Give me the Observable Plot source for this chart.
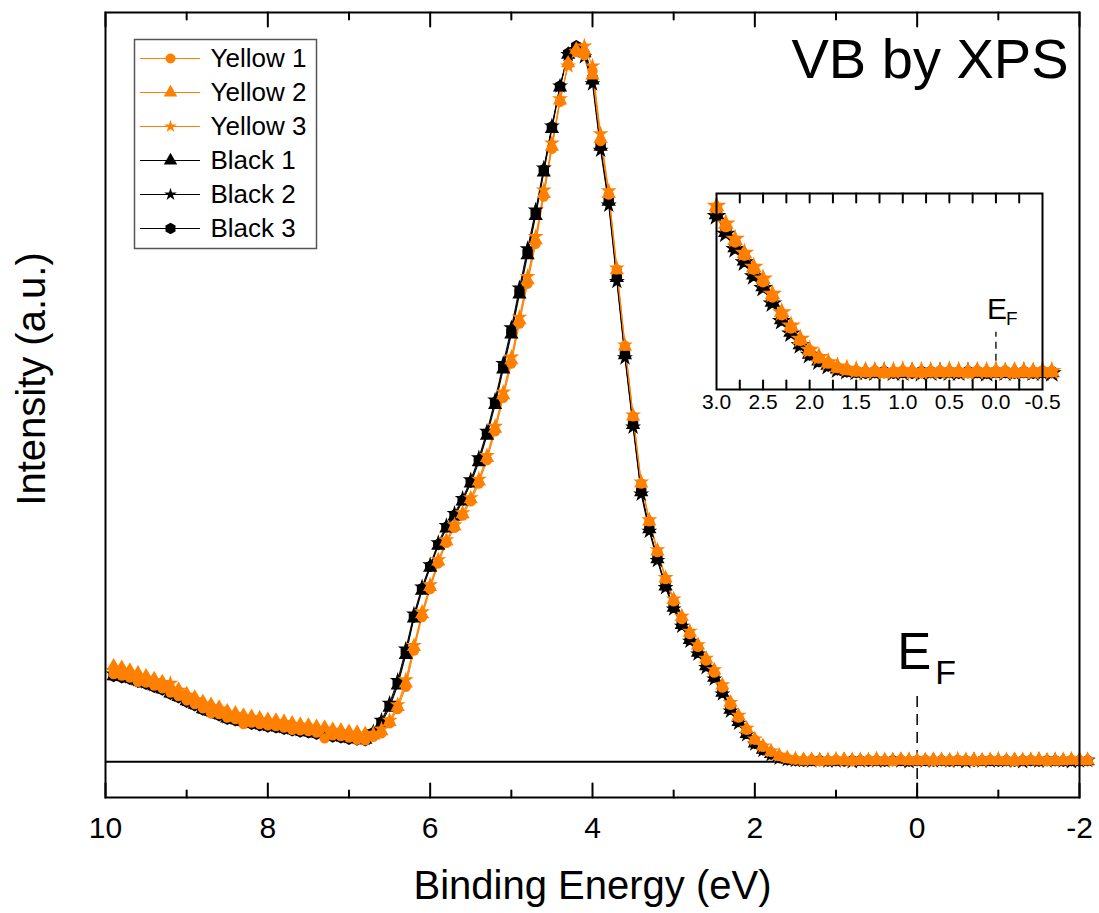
<!DOCTYPE html>
<html>
<head>
<meta charset="utf-8">
<script src="https://cdn.jsdelivr.net/npm/d3@7"></script>
<script src="https://cdn.jsdelivr.net/npm/@observablehq/plot@0.6"></script>
<style>
  body { margin: 0; background: #fff; }
  #wrap { position: relative; width: 1099px; height: 913px; overflow: hidden; font-family: "Liberation Sans", Arial, sans-serif; }
  #wrap > svg { position: absolute; }
</style>
</head>
<body>
<div id="wrap"></div>
<script>
// ---------- data (binding energy in eV, normalized intensity) ----------
const energy = [9.9,9.8,9.7,9.6,9.5,9.4,9.3,9.2,9.1,9.0,8.9,8.8,8.7,8.6,8.5,8.4,8.3,8.2,8.1,8.0,7.9,7.8,7.7,7.6,7.5,7.4,7.3,7.2,7.1,7.0,6.9,6.8,6.7,6.6,6.5,6.4,6.3,6.2,6.1,6.0,5.9,5.8,5.7,5.6,5.5,5.4,5.3,5.2,5.1,5.0,4.9,4.8,4.7,4.6,4.5,4.4,4.3,4.2,4.1,4.0,3.9,3.8,3.7,3.6,3.5,3.4,3.3,3.2,3.1,3.0,2.9,2.8,2.7,2.6,2.5,2.4,2.3,2.2,2.1,2.0,1.9,1.8,1.7,1.6,1.5,1.4,1.3,1.2,1.1,1.0,0.9,0.8,0.7,0.6,0.5,0.4,0.3,0.2,0.1,0.0,-0.1,-0.2,-0.3,-0.4,-0.5,-0.6,-0.7,-0.8,-0.9,-1.0,-1.1,-1.2,-1.3,-1.4,-1.5,-1.6,-1.7,-1.8,-1.9,-2.0,-2.1];

const yellow1 = [
  .123,.121,.118,.112,.111,.107,.103,.097,.092,.086,
  .081,.075,.068,.067,.062,.060,.053,.055,.053,.051,
  .050,.048,.045,.044,.043,.041,.033,.037,.036,.034,
  .031,.030,.035,.040,.054,.074,.105,.156,.203,.242,
  .278,.307,.328,.345,.365,.390,.423,.463,.510,.558,
  .614,.670,.726,.792,.859,.925,.977,.995,.990,.968,
  .870,.795,.690,.583,.484,.390,.337,.294,.256,.225,
  .200,.179,.161,.142,.125,.104,.080,.062,.045,.031,
  .021,.014,.008,.005,.003,
  .002,.003,.001,.002,.003,.002,.001,.002,.003,.002,
  .002,.001,.003,.002,.002,.003,.001,.002,.002,.003,
  .002,.001,.002,.003,.002,.002,.001,.002,.003,.002,
  .001,.002,.002,.003,.002,.002];
const yellow2 = [
  .134,.132,.128,.124,.120,.116,.112,.106,.101,.095,
  .090,.084,.080,.076,.071,.068,.065,.063,.061,.059,
  .058,.056,.054,.052,.051,.049,.048,.045,.044,.042,
  .041,.039,.037,.043,.056,.077,.110,.161,.207,.245,
  .281,.309,.330,.347,.368,.393,.426,.467,.514,.563,
  .619,.675,.731,.796,.862,.927,.979,.998,.997,.962,
  .873,.796,.689,.582,.484,.390,.337,.295,.257,.227,
  .203,.181,.163,.144,.128,.107,.083,.064,.046,.031,
  .022,.014,.008,.005,.003,
  .003,.002,.002,.001,.002,.003,.002,.002,.001,.003,
  .002,.002,.003,.002,.001,.002,.003,.002,.002,.001,
  .002,.003,.002,.002,.002,.001,.003,.002,.002,.003,
  .002,.001,.002,.002,.003,.002];
const yellow3 = [
  .128,.127,.124,.120,.117,.114,.111,.110,.100,.093,
  .087,.081,.077,.074,.068,.066,.063,.062,.059,.057,
  .056,.055,.052,.051,.049,.047,.046,.044,.042,.040,
  .039,.038,.040,.046,.058,.080,.115,.163,.210,.248,
  .283,.311,.332,.349,.370,.396,.429,.470,.518,.567,
  .623,.680,.736,.801,.867,.929,.975,.995,1.003,.975,
  .880,.800,.692,.584,.486,.392,.339,.297,.258,.228,
  .204,.183,.164,.145,.129,.108,.083,.065,.047,.032,
  .022,.015,.009,.006,.004,
  .003,.003,.002,.003,.004,.002,.003,.003,.002,.004,
  .003,.002,.003,.003,.004,.002,.003,.003,.002,.004,
  .003,.003,.002,.003,.004,.003,.002,.003,.003,.004,
  .002,.003,.003,.004,.003,.003];
const black1 = [
  .120,.119,.117,.113,.110,.106,.102,.096,.091,.085,
  .080,.074,.070,.066,.061,.059,.056,.054,.052,.050,
  .049,.047,.045,.043,.042,.040,.039,.036,.035,.033,
  .032,.031,.040,.054,.076,.107,.150,.201,.240,.272,
  .303,.327,.344,.365,.390,.420,.457,.500,.550,.599,
  .655,.710,.765,.826,.887,.945,.991,1.000,.993,.955,
  .862,.785,.678,.570,.472,.378,.326,.284,.246,.216,
  .192,.171,.153,.134,.118,.097,.073,.056,.039,.026,
  .017,.011,.006,.003,.002,
  .001,.002,.001,.000,.001,.002,.001,.001,.000,.002,
  .001,.001,.002,.001,.000,.001,.002,.001,.001,.000,
  .001,.002,.001,.001,.000,.001,.002,.001,.001,.002,
  .000,.001,.001,.002,.001,.001];
const black2 = [
  .123,.122,.119,.115,.112,.108,.104,.098,.093,.087,
  .082,.076,.072,.068,.063,.061,.058,.056,.054,.052,
  .051,.049,.047,.045,.044,.042,.041,.038,.037,.035,
  .034,.033,.042,.058,.082,.114,.158,.207,.245,.276,
  .307,.331,.348,.369,.395,.426,.463,.507,.558,.608,
  .664,.719,.773,.832,.891,.947,.991,.998,.988,.950,
  .857,.780,.673,.566,.469,.375,.323,.282,.244,.214,
  .190,.169,.151,.132,.116,.095,.071,.054,.038,.025,
  .016,.010,.005,.003,.002,
  .002,.001,.002,.001,.001,.002,.000,.001,.002,.001,
  .001,.002,.001,.000,.002,.001,.001,.002,.001,.001,
  .000,.002,.001,.001,.002,.001,.001,.000,.002,.001,
  .001,.002,.001,.000,.001,.002];
const black3 = [
  .120,.118,.116,.112,.109,.105,.101,.095,.090,.084,
  .079,.073,.069,.065,.060,.058,.055,.053,.051,.049,
  .048,.046,.044,.042,.041,.039,.038,.035,.034,.032,
  .031,.030,.041,.056,.079,.110,.154,.203,.243,.274,
  .305,.329,.346,.367,.392,.423,.460,.504,.554,.603,
  .659,.714,.769,.830,.890,.947,.993,1.003,.992,.958,
  .863,.786,.679,.572,.474,.380,.327,.285,.247,.217,
  .193,.172,.154,.135,.119,.098,.074,.057,.040,.026,
  .017,.011,.006,.003,.002,
  .001,.002,.002,.001,.002,.001,.002,.002,.001,.002,
  .001,.002,.002,.001,.002,.002,.001,.002,.001,.002,
  .002,.001,.002,.002,.001,.002,.001,.002,.002,.001,
  .002,.002,.001,.002,.001,.002];

const seriesNames   = ["Yellow 1", "Yellow 2", "Yellow 3", "Black 1", "Black 2", "Black 3"];
const seriesValues  = [yellow1, yellow2, yellow3, black1, black2, black3];
const seriesColors  = ["#ff8000", "#ff8000", "#ff8000", "#000000", "#000000", "#000000"];
const seriesSymbols = ["circle", "triangle", "star", "triangle", "star", "hexagon"];

const mainMajorTicks = [10, 8, 6, 4, 2, 0, -2];
const mainMinorTicks = [9, 7, 5, 3, 1, -1];
const insetTickLabels = [3.0, 2.5, 2.0, 1.5, 1.0, 0.5, 0.0, -0.5];
const insetTicks = [2.75, 2.5, 2.25, 2.0, 1.75, 1.5, 1.25, 1.0, 0.75, 0.5, 0.25, 0.0, -0.25];

// ---------- build tables ----------
const series = seriesNames.map((name, k) => {
  if (seriesValues[k].length !== energy.length) console.error("length mismatch", name, seriesValues[k].length);
  return {
    name, color: seriesColors[k], symbol: seriesSymbols[k],
    rows: energy.map((e, i) => ({e, v: seriesValues[k][i]}))
  };
});
const drawOrder = [3, 4, 5, 0, 1, 2].map(k => series[k]);

const FONT = '"Liberation Sans", Arial, sans-serif';
const up = {draw(ctx, l) { ctx.moveTo(0, 0); ctx.lineTo(0, -l); }};
const down = {draw(ctx, l) { ctx.moveTo(0, 0); ctx.lineTo(0, l); }};

function seriesMarks(filter, rFor) {
  const marks = [];
  for (const s of drawOrder) {
    const rows = s.rows.filter(filter);
    marks.push(Plot.line(rows, {x: "e", y: "v", stroke: s.color, strokeWidth: 1}));
  }
  for (const s of drawOrder) {
    const rows = s.rows.filter(filter);
    marks.push(Plot.dot(rows, {x: "e", y: "v", symbol: s.symbol, fill: s.color, r: rFor(s.symbol)}));
  }
  return marks;
}

const wrap = document.getElementById("wrap");

// ---------- main chart ----------
const yMain = [-0.05, 1.05];
const main = Plot.plot({
  width: 1099, height: 913,
  marginLeft: 105, marginRight: 20, marginTop: 12, marginBottom: 116,
  style: {fontFamily: FONT, background: "transparent", overflow: "visible", color: "#000"},
  x: {domain: [10, -2], axis: null},
  y: {domain: yMain, axis: null},
  marks: [
    Plot.ruleY([0], {strokeWidth: 2}),
    Plot.ruleX([0], {y1: yMain[0], y2: 0.1, strokeDasharray: "11,7", strokeWidth: 1.5}),
    ...seriesMarks(() => true, sym => sym === "star" ? 5.0 : sym === "triangle" ? 5.3 : 5.2),
    Plot.frame({strokeWidth: 2}),
    Plot.vector(mainMajorTicks, {x: d => d, frameAnchor: "bottom", length: 14, anchor: "start", shape: up, strokeWidth: 2}),
    Plot.vector(mainMinorTicks, {x: d => d, frameAnchor: "bottom", length: 7, anchor: "start", shape: up, strokeWidth: 2}),
    Plot.vector(mainMajorTicks, {x: d => d, frameAnchor: "top", length: 14, anchor: "start", shape: down, strokeWidth: 2}),
    Plot.vector(mainMinorTicks, {x: d => d, frameAnchor: "top", length: 7, anchor: "start", shape: down, strokeWidth: 2}),
    Plot.text(mainMajorTicks, {x: d => d, frameAnchor: "bottom", dy: 19, lineAnchor: "top", text: d => String(d), fontSize: 30, fill: "#000"}),
    Plot.text(["Binding Energy (eV)"], {frameAnchor: "bottom", dy: 101, lineAnchor: "bottom", textAnchor: "middle", text: d => d, fontSize: 40, fill: "#000"}),
    Plot.text(["Intensity (a.u.)"], {frameAnchor: "left", dx: -73, dy: -26, rotate: -90, textAnchor: "middle", lineAnchor: "middle", text: d => d, fontSize: 40, fill: "#000"}),
    Plot.text(["VB by XPS"], {frameAnchor: "top-right", dx: -11, dy: 26, textAnchor: "end", lineAnchor: "top", text: d => d, fontSize: 56, fill: "#000"}),
    Plot.text([{e: 0, v: 0.13}], {x: "e", y: "v", text: () => "E", dx: -20, textAnchor: "start", lineAnchor: "bottom", fontSize: 51, fill: "#000"}),
    Plot.text([{e: 0, v: 0.109}], {x: "e", y: "v", text: () => "F", dx: 18, textAnchor: "start", lineAnchor: "bottom", fontSize: 34, fill: "#000"})
  ]
});
main.style.left = "0px"; main.style.top = "0px";
wrap.appendChild(main);

// ---------- inset ----------
const yInset = [-0.022, 0.245];
const inset = Plot.plot({
  width: 390, height: 250,
  marginLeft: 26, marginRight: 38, marginTop: 13, marginBottom: 41,
  style: {fontFamily: FONT, background: "transparent", overflow: "visible", color: "#000"},
  x: {domain: [3.0, -0.5], axis: null},
  y: {domain: yInset, axis: null},
  marks: [
    Plot.ruleX([0], {y1: 0.0, y2: 0.056, strokeDasharray: "7,5", strokeWidth: 1.3}),
    ...seriesMarks(d => d.e <= 3.0 && d.e >= -0.6, sym => sym === "star" ? 6.2 : 5.8),
    Plot.frame({strokeWidth: 2}),
    Plot.vector(insetTicks, {x: d => d, frameAnchor: "bottom", length: 9, anchor: "start", shape: up, strokeWidth: 2}),
    Plot.vector(insetTicks, {x: d => d, frameAnchor: "top", length: 9, anchor: "start", shape: down, strokeWidth: 2}),
    Plot.text(insetTickLabels, {x: d => d, frameAnchor: "bottom", dy: 5, lineAnchor: "top", text: d => d.toFixed(1), fontSize: 21, fill: "#000"}),
    Plot.text([{e: 0, v: 0.074}], {x: "e", y: "v", text: () => "E", dx: -9, textAnchor: "start", lineAnchor: "bottom", fontSize: 30, fill: "#000"}),
    Plot.text([{e: 0, v: 0.066}], {x: "e", y: "v", text: () => "F", dx: 10, textAnchor: "start", lineAnchor: "bottom", fontSize: 19, fill: "#000"})
  ]
});
inset.style.left = "690px"; inset.style.top = "180px";
wrap.appendChild(inset);

// ---------- legend ----------
const legendMarks = [Plot.frame({stroke: "#555", strokeWidth: 1.5})];
for (const s of series) {
  legendMarks.push(Plot.tickY([s.name], {y: d => d, stroke: s.color, strokeWidth: 1, insetLeft: 6, insetRight: 116}));
  legendMarks.push(Plot.dot([s.name], {y: d => d, frameAnchor: "left", dx: 36, symbol: s.symbol, fill: s.color, r: s.symbol === "star" ? 4 : 5}));
}
legendMarks.push(Plot.text(seriesNames, {y: d => d, frameAnchor: "left", dx: 76, text: d => d, textAnchor: "start", lineAnchor: "middle", fontSize: 26, fill: "#000"}));
const legend = Plot.plot({
  width: 182, height: 209,
  marginLeft: 0, marginRight: 0, marginTop: 0, marginBottom: 0,
  style: {fontFamily: FONT, background: "#fff", overflow: "visible", color: "#000"},
  x: {axis: null, domain: [0, 1]},
  y: {type: "point", domain: seriesNames, range: [19, 189], padding: 0, axis: null},
  marks: legendMarks
});
legend.style.left = "134px"; legend.style.top = "39px";
wrap.appendChild(legend);
</script>
</body>
</html>
